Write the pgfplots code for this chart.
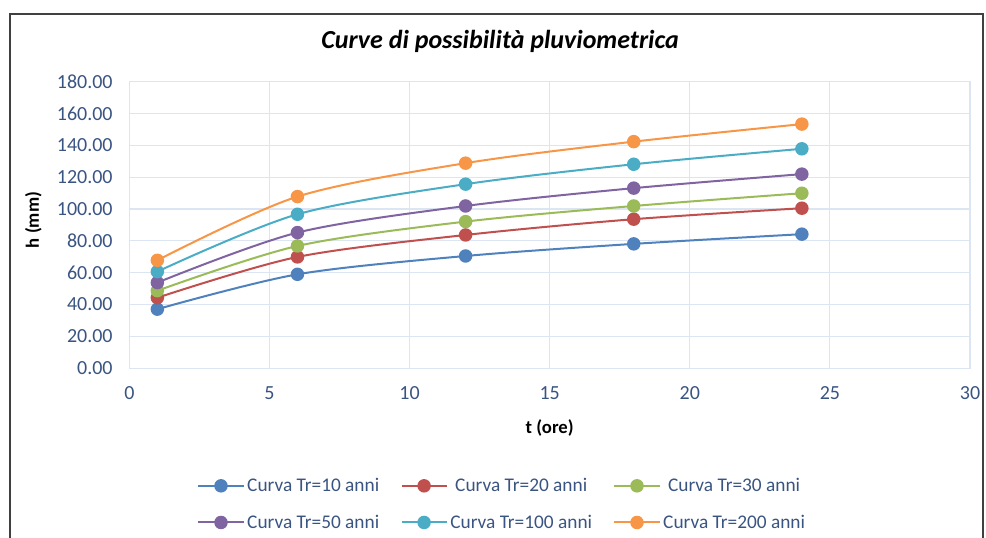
\documentclass[border=0pt]{standalone}
\usepackage{fontspec}
\setmainfont{Carlito}
\usepackage{pgfplots}
\pgfplotsset{compat=1.18}
\definecolor{s1}{HTML}{4F81BD}
\definecolor{s2}{HTML}{C0504D}
\definecolor{s3}{HTML}{9BBB59}
\definecolor{s4}{HTML}{8064A2}
\definecolor{s5}{HTML}{4BACC6}
\definecolor{s6}{HTML}{F79646}
\definecolor{gridc}{HTML}{DCE6F2}
\definecolor{tickc}{HTML}{3A5482}
\begin{document}
\begin{tikzpicture}
\useasboundingbox (0,0) rectangle (739.5pt,403.5pt);
\draw[line width=1.5pt, black!75] (7.5pt,-5pt) -- (7.5pt,393pt) -- (737.25pt,393pt) -- (737.25pt,-5pt);
\begin{axis}[
  at={(97pt,127.3pt)}, anchor=south west,
  scale only axis, width=630.5pt, height=215pt,
  xmin=0, xmax=30, ymin=0, ymax=180,
  xtick={0,5,...,30}, ytick={0,20,...,180},
  grid=major,
  major grid style={draw=gridc, line width=0.8pt},
  axis line style={draw=gridc, line width=0.8pt},
  major tick length=0pt,
  /pgf/number format/assume math mode=true,
  tick label style={font=\fontsize{15}{17}\selectfont, text=tickc},
  y tick label style={/pgf/number format/fixed, /pgf/number format/fixed zerofill, /pgf/number format/precision=2, xshift=-9pt},
  x tick label style={yshift=-10pt},
  title={Curve di possibilità pluviometrica},
  title style={at={(axis description cs:0.441,1)}, anchor=center, yshift=24pt, font=\fontsize{19.5}{23}\selectfont\bfseries\itshape},
  xlabel={t (ore)}, ylabel={h (mm)},
  every axis x label/.style={at={(axis description cs:0.5,0)}, anchor=center, yshift=-44.5pt, font=\fontsize{14}{16}\selectfont\bfseries},
  every axis y label/.style={at={(axis description cs:0,0.517)}, anchor=center, xshift=-72pt, rotate=90, font=\fontsize{14}{16}\selectfont\bfseries},
  legend columns=3,
  legend style={at={(0.444,-0.474)}, anchor=center, draw=none, fill=none,
    font=\fontsize{14.5}{17}\selectfont, text=tickc,
    /tikz/every even column/.append style={column sep=14pt},
    /tikz/row sep=12pt},
  legend image code/.code={\draw[mark repeat=2,mark phase=2] plot coordinates {(0pt,0pt)(16.9pt,0pt)(33.8pt,0pt)};},
  every axis plot/.append style={line width=1.5pt, smooth, mark=*, mark size=4.3pt},
]
\addplot[color=s1, mark options={fill=s1}] coordinates {(1,37.1)(6,59.0)(12,70.5)(18,78.1)(24,84.2)};
\addlegendentry{Curva Tr=10 anni}
\addplot[color=s2, mark options={fill=s2}] coordinates {(1,44.3)(6,69.9)(12,83.7)(18,93.6)(24,100.5)};
\addlegendentry{Curva Tr=20 anni}
\addplot[color=s3, mark options={fill=s3}] coordinates {(1,48.7)(6,76.8)(12,92.1)(18,101.9)(24,109.9)};
\addlegendentry{Curva Tr=30 anni}
\addplot[color=s4, mark options={fill=s4}] coordinates {(1,53.8)(6,85.2)(12,101.9)(18,113.1)(24,121.9)};
\addlegendentry{Curva Tr=50 anni}
\addplot[color=s5, mark options={fill=s5}] coordinates {(1,60.7)(6,96.7)(12,115.6)(18,128.1)(24,137.8)};
\addlegendentry{Curva Tr=100 anni}
\addplot[color=s6, mark options={fill=s6}] coordinates {(1,67.8)(6,107.8)(12,128.8)(18,142.3)(24,153.3)};
\addlegendentry{Curva Tr=200 anni}
\end{axis}
\end{tikzpicture}
\end{document}
